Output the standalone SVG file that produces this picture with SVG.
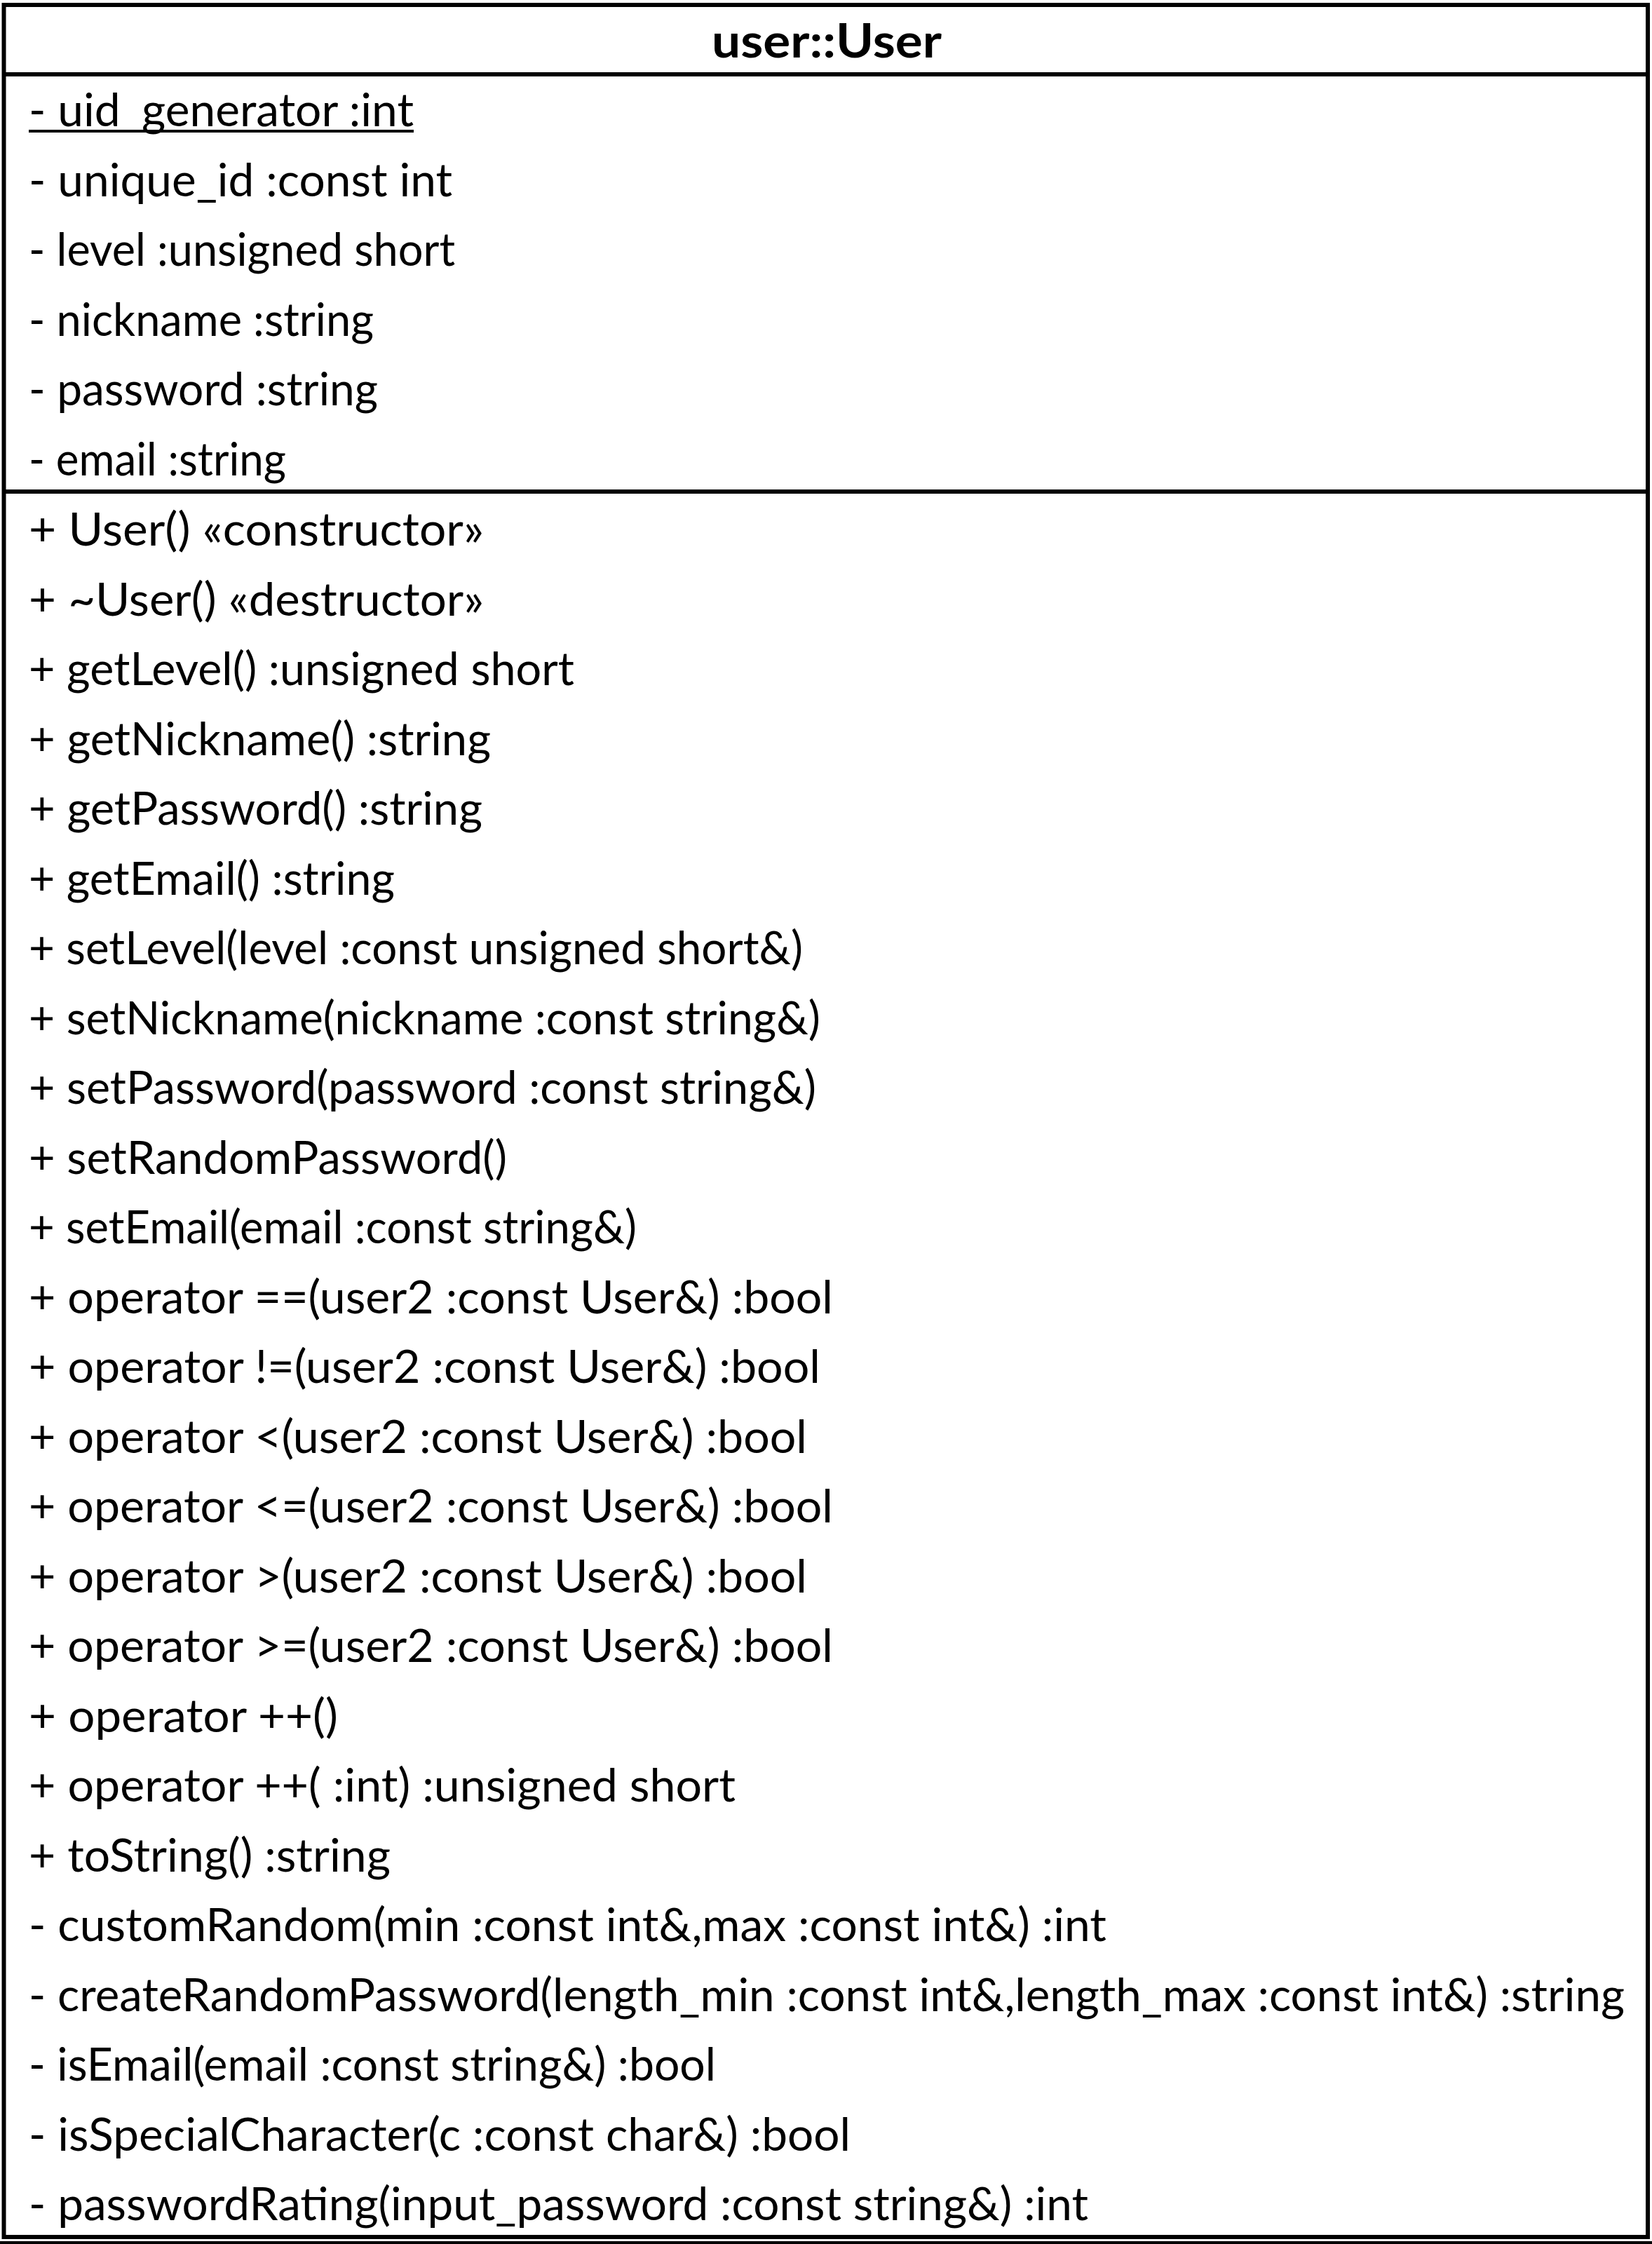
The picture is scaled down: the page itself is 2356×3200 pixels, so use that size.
<svg xmlns="http://www.w3.org/2000/svg" width="2356" height="3200" viewBox="0 0 2356 3200">
  <style>
    .frame { fill: none; stroke: #000; stroke-width: 6; }
    .rule { stroke: #000; stroke-width: 6; }
    .title { font-family: Lato, "Liberation Sans", sans-serif; font-weight: bold; font-size: 66px; fill: #000; }
    .member { font-family: Lato, "Liberation Sans", sans-serif; font-size: 65px; fill: #000; }
  </style>
  <rect x="0" y="0" width="2356" height="3200" fill="#fff"/>

  <!-- class box: user::User -->
  <g id="class-user-User">
    <rect class="frame" x="5.5" y="7" width="2344.5" height="3183"/>
    <line class="rule" x1="5.5" y1="106" x2="2350" y2="106"/>
    <line class="rule" x1="5.5" y1="701" x2="2350" y2="701"/>
    <text class="title" x="1015" y="82" textLength="328" lengthAdjust="spacingAndGlyphs">user::User</text>

    <g id="attributes">
      <text class="member" x="41" y="180" textLength="549" lengthAdjust="spacingAndGlyphs">- uid_generator :int</text>
      <line x1="41" y1="187" x2="590" y2="187" stroke="#000" stroke-width="4"/>
      <text class="member" x="41" y="279.6" textLength="604" lengthAdjust="spacingAndGlyphs">- unique_id :const int</text>
      <text class="member" x="41" y="379.2" textLength="608" lengthAdjust="spacingAndGlyphs">- level :unsigned short</text>
      <text class="member" x="41" y="478.8" textLength="492" lengthAdjust="spacingAndGlyphs">- nickname :string</text>
      <text class="member" x="41" y="578.4" textLength="498" lengthAdjust="spacingAndGlyphs">- password :string</text>
      <text class="member" x="41" y="678" textLength="367" lengthAdjust="spacingAndGlyphs">- email :string</text>
    </g>

    <g id="operations">
      <text class="member" x="41" y="778" textLength="649" lengthAdjust="spacingAndGlyphs">+ User() «constructor»</text>
      <text class="member" x="41" y="877.5" textLength="649" lengthAdjust="spacingAndGlyphs">+ ~User() «destructor»</text>
      <text class="member" x="41" y="977" textLength="778" lengthAdjust="spacingAndGlyphs">+ getLevel() :unsigned short</text>
      <text class="member" x="41" y="1076.5" textLength="659" lengthAdjust="spacingAndGlyphs">+ getNickname() :string</text>
      <text class="member" x="41" y="1176" textLength="647" lengthAdjust="spacingAndGlyphs">+ getPassword() :string</text>
      <text class="member" x="41" y="1275.5" textLength="522" lengthAdjust="spacingAndGlyphs">+ getEmail() :string</text>
      <text class="member" x="41" y="1375" textLength="1104" lengthAdjust="spacingAndGlyphs">+ setLevel(level :const unsigned short&amp;)</text>
      <text class="member" x="41" y="1474.5" textLength="1129" lengthAdjust="spacingAndGlyphs">+ setNickname(nickname :const string&amp;)</text>
      <text class="member" x="41" y="1574" textLength="1123" lengthAdjust="spacingAndGlyphs">+ setPassword(password :const string&amp;)</text>
      <text class="member" x="41" y="1673.5" textLength="682" lengthAdjust="spacingAndGlyphs">+ setRandomPassword()</text>
      <text class="member" x="41" y="1773" textLength="867" lengthAdjust="spacingAndGlyphs">+ setEmail(email :const string&amp;)</text>
      <text class="member" x="41" y="1872.5" textLength="1147" lengthAdjust="spacingAndGlyphs">+ operator ==(user2 :const User&amp;) :bool</text>
      <text class="member" x="41" y="1972" textLength="1129" lengthAdjust="spacingAndGlyphs">+ operator !=(user2 :const User&amp;) :bool</text>
      <text class="member" x="41" y="2071.5" textLength="1110" lengthAdjust="spacingAndGlyphs">+ operator &lt;(user2 :const User&amp;) :bool</text>
      <text class="member" x="41" y="2171" textLength="1147" lengthAdjust="spacingAndGlyphs">+ operator &lt;=(user2 :const User&amp;) :bool</text>
      <text class="member" x="41" y="2270.5" textLength="1110" lengthAdjust="spacingAndGlyphs">+ operator &gt;(user2 :const User&amp;) :bool</text>
      <text class="member" x="41" y="2370" textLength="1147" lengthAdjust="spacingAndGlyphs">+ operator &gt;=(user2 :const User&amp;) :bool</text>
      <text class="member" x="41" y="2469.5" textLength="441" lengthAdjust="spacingAndGlyphs">+ operator ++()</text>
      <text class="member" x="41" y="2569" textLength="1008" lengthAdjust="spacingAndGlyphs">+ operator ++( :int) :unsigned short</text>
      <text class="member" x="41" y="2668.5" textLength="516" lengthAdjust="spacingAndGlyphs">+ toString() :string</text>
      <text class="member" x="41" y="2768" textLength="1537" lengthAdjust="spacingAndGlyphs">- customRandom(min :const int&amp;,max :const int&amp;) :int</text>
      <text class="member" x="41" y="2867.5" textLength="2276" lengthAdjust="spacingAndGlyphs">- createRandomPassword(length_min :const int&amp;,length_max :const int&amp;) :string</text>
      <text class="member" x="41" y="2967" textLength="980" lengthAdjust="spacingAndGlyphs">- isEmail(email :const string&amp;) :bool</text>
      <text class="member" x="41" y="3066.5" textLength="1172" lengthAdjust="spacingAndGlyphs">- isSpecialCharacter(c :const char&amp;) :bool</text>
      <text class="member" x="41" y="3166" textLength="1511" lengthAdjust="spacingAndGlyphs">- passwordRating(input_password :const string&amp;) :int</text>
    </g>
  </g>

  <!-- no connectors in this class diagram -->
  <g id="connectors"/>

  <rect x="0" y="3196" width="2356" height="4" fill="#000"/>
</svg>
